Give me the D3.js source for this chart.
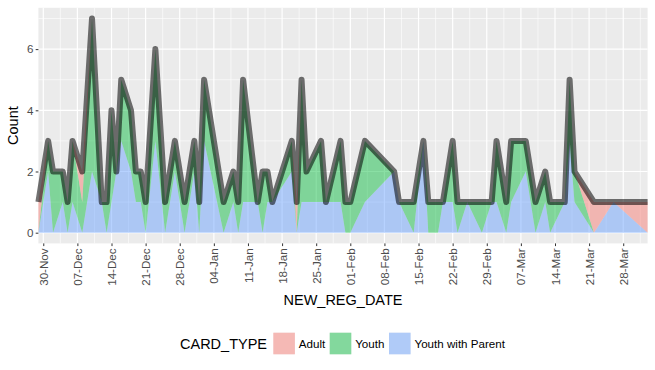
<!DOCTYPE html>
<html>
<head>
<meta charset="utf-8">
<script src="https://cdn.jsdelivr.net/npm/d3@7"></script>
<style>
  body { margin: 0; background: #fff; }
  text { font-family: "Liberation Sans", Arial, sans-serif; }
</style>
</head>
<body>
<svg id="chart" width="655" height="370"></svg>
<script>
// registration dates and counts per card type
const regDates = [
  "2015-11-29", "2015-12-01", "2015-12-02", "2015-12-04", "2015-12-05", "2015-12-06",
  "2015-12-08", "2015-12-10", "2015-12-12", "2015-12-13", "2015-12-14", "2015-12-15",
  "2015-12-16", "2015-12-18", "2015-12-19", "2015-12-20", "2015-12-21", "2015-12-23",
  "2015-12-25", "2015-12-27", "2015-12-29", "2015-12-31", "2016-01-01", "2016-01-02",
  "2016-01-06", "2016-01-08", "2016-01-09", "2016-01-10", "2016-01-13", "2016-01-14",
  "2016-01-15", "2016-01-16", "2016-01-20", "2016-01-21", "2016-01-22", "2016-01-23",
  "2016-01-26", "2016-01-27", "2016-01-30", "2016-01-31", "2016-02-01", "2016-02-04",
  "2016-02-10", "2016-02-11", "2016-02-14", "2016-02-16", "2016-02-17", "2016-02-19",
  "2016-02-20", "2016-02-22", "2016-02-23", "2016-02-25", "2016-02-28", "2016-03-01",
  "2016-03-02", "2016-03-04", "2016-03-05", "2016-03-08", "2016-03-10", "2016-03-12",
  "2016-03-13", "2016-03-16", "2016-03-17", "2016-03-18", "2016-03-22", "2016-03-26",
  "2016-04-02"
];
const adult = [
  1, 0, 0, 0, 0, 0,  1, 0, 0, 0, 0, 0,  0, 0, 0, 0, 0, 0,  0, 0, 0, 0, 0, 0,
  0, 0, 0, 0, 0, 0,  0, 0, 0, 1, 0, 0,  0, 0, 0, 0, 0, 0,  0, 0, 0, 0, 0, 0,
  0, 0, 0, 0, 0, 0,  0, 0, 0, 0, 0, 0,  0, 0, 0, 0, 1, 0,  1
];
const youth = [
  0, 1, 2, 1, 1, 2,  1, 5, 0, 1, 3, 0,  2, 2, 1, 1, 1, 3,  1, 1, 1, 1, 1, 2,
  1, 1, 1, 4, 0, 2,  1, 0, 1, 0, 4, 1,  2, 0, 2, 1, 1, 2,  0, 0, 1, 0, 1, 1,
  0, 2, 1, 0, 1, 0,  2, 1, 2, 1, 1, 1,  1, 0, 2, 1, 0, 0,  0
];
const youthParent = [
  0, 2, 0, 1, 0, 1,  0, 2, 1, 0, 1, 2,  3, 2, 1, 1, 0, 3,  0, 2, 0, 2, 0, 3,
  0, 1, 0, 1, 1, 0,  1, 1, 2, 0, 1, 1,  1, 1, 1, 0, 0, 1,  2, 1, 0, 3, 0, 0,
  1, 1, 0, 1, 0, 1,  1, 0, 1, 2, 0, 1,  0, 1, 3, 1, 0, 1,  0
];
const cardTypes = ["Adult", "Youth", "Youth with Parent"];
const yTicks = [0, 2, 4, 6];

const svg = d3.select("#chart"),
    margin = { top: 7.8, right: 7.4, bottom: 126.6, left: 38.4 },
    width = +svg.attr("width") - margin.left - margin.right,
    height = +svg.attr("height") - margin.top - margin.bottom;

const parseDate = d3.utcParse("%Y-%m-%d");
const data = regDates.map((d, i) => ({
    date: parseDate(d),
    "Adult": adult[i],
    "Youth": youth[i],
    "Youth with Parent": youthParent[i]
}));
data.forEach(d => { d.total = d["Adult"] + d["Youth"] + d["Youth with Parent"]; });

const colors = { "Adult": "#F8766D", "Youth": "#00BA38", "Youth with Parent": "#619CFF" };
const fillAlpha = 0.46;

const xScale = d3.scaleUtc()
    .domain(d3.extent(data, d => d.date))
    .range([0, width]);

const yMax = d3.max(data, d => d.total);
const yScale = d3.scaleLinear()
    .domain([-0.05 * yMax, yMax * 1.05])
    .range([height, 0]);

const g = svg.append("g")
    .attr("transform", "translate(" + margin.left + "," + margin.top + ")");

// panel background
g.append("rect")
    .attr("width", width)
    .attr("height", height)
    .attr("fill", "#EBEBEB");

// grid
const xTicks = xScale.ticks(d3.utcMonday.every(1));
const xMinor = [];
xTicks.forEach(t => {
    const m = new Date(t.getTime() + 3.5 * 864e5);
    if (m <= xScale.domain()[1]) xMinor.push(m);
});
const yMinor = [1, 3, 5, 7];

g.selectAll(".ymin").data(yMinor).enter().append("line")
    .attr("x1", 0).attr("x2", width)
    .attr("y1", d => yScale(d)).attr("y2", d => yScale(d))
    .attr("stroke", "#fff").attr("stroke-width", 0.6);
g.selectAll(".xmin").data(xMinor).enter().append("line")
    .attr("y1", 0).attr("y2", height)
    .attr("x1", d => xScale(d)).attr("x2", d => xScale(d))
    .attr("stroke", "#fff").attr("stroke-width", 0.6);
g.selectAll(".ymaj").data(yTicks).enter().append("line")
    .attr("x1", 0).attr("x2", width)
    .attr("y1", d => yScale(d)).attr("y2", d => yScale(d))
    .attr("stroke", "#fff").attr("stroke-width", 1.2);
g.selectAll(".xmaj").data(xTicks).enter().append("line")
    .attr("y1", 0).attr("y2", height)
    .attr("x1", d => xScale(d)).attr("x2", d => xScale(d))
    .attr("stroke", "#fff").attr("stroke-width", 1.2);

// stacked areas, Youth with Parent at the bottom
const stack = d3.stack().keys(["Youth with Parent", "Youth", "Adult"]);
const series = stack(data);

const area = d3.area()
    .x(d => xScale(d.data.date))
    .y0(d => yScale(d[0]))
    .y1(d => yScale(d[1]));

g.selectAll(".area")
    .data(series)
    .enter()
    .append("path")
    .attr("d", area)
    .attr("fill", d => colors[d.key])
    .attr("fill-opacity", fillAlpha);

// total line
const line = d3.line()
    .x(d => xScale(d.date))
    .y(d => yScale(d.total));

g.append("path")
    .datum(data)
    .attr("d", line)
    .attr("fill", "none")
    .attr("stroke", "#000")
    .attr("stroke-opacity", 0.55)
    .attr("stroke-width", 6)
    .attr("stroke-linejoin", "round");

// axes
const xAxis = g.append("g")
    .attr("transform", "translate(0," + height + ")")
    .call(d3.axisBottom(xScale).tickValues(xTicks).tickFormat(d3.utcFormat("%d-%b"))
        .tickSize(2.7).tickPadding(2.2));
xAxis.select(".domain").remove();
xAxis.selectAll(".tick line").attr("stroke", "#333");
xAxis.selectAll("text")
    .attr("transform", "rotate(-90)")
    .attr("x", -5)
    .attr("y", 0)
    .attr("dy", "0.35em")
    .style("text-anchor", "end")
    .style("font-size", "11.6px")
    .style("fill", "#4D4D4D");

const yAxis = g.append("g")
    .call(d3.axisLeft(yScale).tickValues(yTicks).tickSize(2.7).tickPadding(2.2));
yAxis.select(".domain").remove();
yAxis.selectAll(".tick line").attr("stroke", "#333");
yAxis.selectAll("text")
    .style("font-size", "11.6px")
    .style("fill", "#4D4D4D");

// axis titles
svg.append("text")
    .attr("x", margin.left + width / 2)
    .attr("y", 305)
    .attr("text-anchor", "middle")
    .style("font-size", "14.5px")
    .text("NEW_REG_DATE");

svg.append("text")
    .attr("transform", "translate(18," + (margin.top + height / 2) + ") rotate(-90)")
    .attr("text-anchor", "middle")
    .style("font-size", "14.5px")
    .text("Count");

// legend
const legend = svg.append("g").attr("transform", "translate(0,343.5)");
legend.append("text")
    .attr("x", 180)
    .attr("dy", "0.35em")
    .style("font-size", "14.5px")
    .text("CARD_TYPE");

const keyX = [273.3, 329.7, 389];
const items = legend.selectAll(".item")
    .data(cardTypes)
    .enter()
    .append("g")
    .attr("transform", (d, i) => "translate(" + keyX[i] + ",0)");
items.append("rect")
    .attr("y", -10.8)
    .attr("width", 21.6)
    .attr("height", 21.6)
    .attr("fill", "#F2F2F2");
items.append("rect")
    .attr("y", -10.8)
    .attr("width", 21.6)
    .attr("height", 21.6)
    .attr("fill", d => colors[d])
    .attr("fill-opacity", fillAlpha);
items.append("text")
    .attr("x", 25.5)
    .attr("dy", "0.35em")
    .style("font-size", "11.6px")
    .text(d => d);
</script>
</body>
</html>
